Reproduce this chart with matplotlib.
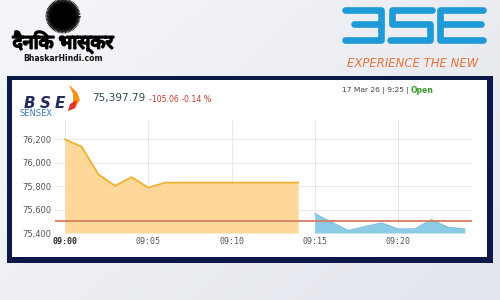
import matplotlib
matplotlib.use("Agg")
import matplotlib.pyplot as plt
import matplotlib.patheffects as pe
import numpy as np
from matplotlib.patches import Rectangle, Circle, Polygon
from matplotlib.lines import Line2D

# ---------------- data ----------------
minutes_pre = list(range(0, 15))
sensex_pre = [76200, 76137, 75902, 75803, 75877, 75788, 75830, 75830,
              75830, 75830, 75830, 75830, 75830, 75830, 75830]
minutes_live = list(range(15, 25))
sensex_live = [75564, 75492, 75420, 75453, 75485, 75434, 75434, 75513,
               75448, 75434]
prev_close = 75502.85
last_price = "75,397.79"
change_text = "-105.06 -0.14 %"
date_text = "17 Mar 26 | 9:25 |"
status_text = "Open"
time_ticks = [0, 5, 10, 15, 20]
time_labels = ["09:00", "09:05", "09:10", "09:15", "09:20"]
y_ticks = [75400, 75600, 75800, 76000, 76200]
y_labels = ["75,400", "75,600", "75,800", "76,000", "76,200"]

W, H = 500, 300
fig = plt.figure(figsize=(5, 3), dpi=100)
fig.patch.set_facecolor("#eceef3")

# background / decoration axes in pixel coordinates
bg = fig.add_axes([0, 0, 1, 1])
bg.set_xlim(0, W)
bg.set_ylim(H, 0)
bg.axis("off")
grad = np.linspace(0, 1, 256)[None, :] * 0.6 + np.linspace(0, 1, 256)[:, None] * 0.4
bg.imshow(grad, extent=[0, W, H, 0], cmap=matplotlib.colors.LinearSegmentedColormap.from_list(
    "g", ["#f5f6f9", "#e3e6ed"]), aspect="auto", zorder=0)

# Dainik Bhaskar logo
cx, cy = 63, 16
bg.add_patch(Circle((cx, cy), 12.5, color="black", zorder=2))
for i, a in enumerate(np.linspace(0, 2 * np.pi, 150, endpoint=False)):
    r2 = 17 if i % 2 == 0 else 15.5
    bg.add_line(Line2D([cx + 11 * np.cos(a), cx + r2 * np.cos(a)],
                       [cy + 11 * np.sin(a), cy + r2 * np.sin(a)],
                       color="black", lw=0.6, zorder=2))
bg.text(63, 42.5, "दैनिक भास्कर", fontsize=14, fontweight="bold", ha="center",
        va="center", color="black",
        family=["Noto Sans Devanagari", "Lohit Devanagari", "Noto Sans", "DejaVu Sans"], zorder=3,
        path_effects=[pe.withStroke(linewidth=1.3, foreground="black")])
bg.text(63, 58.5, "BhaskarHindi.com", fontsize=5.6, fontweight="bold", ha="center",
        va="center", color="#111111", zorder=3)

# BSE logo (right)
blue = "#1e9bd7"
kw = dict(color=blue, lw=4.8, solid_capstyle="round", solid_joinstyle="round", zorder=3)
bg.add_line(Line2D([345, 381, 381, 345], [10, 10, 40, 40], **kw))
bg.add_line(Line2D([354, 381], [24, 24], **kw))
bg.add_line(Line2D([432, 392, 392, 430, 430, 390], [10, 10, 24, 24, 40, 40], **kw))
bg.add_line(Line2D([483, 440, 440, 483], [10, 10, 40, 40], **kw))
bg.add_line(Line2D([440, 481], [24, 24], **kw))
bg.text(413, 63.5, "EXPERIENCE THE NEW", fontsize=8.4, style="italic", ha="center",
        va="center", color="#e8733a", zorder=3)

# navy frame and white panel
bg.add_patch(Rectangle((7, 76), 486, 187, fc="#0c1848", ec="none", zorder=1))
bg.add_patch(Rectangle((12, 80), 475, 177, fc="white", ec="none", zorder=1))

# BSE SENSEX small logo
for ch, x in zip("BSE", [29, 45, 60]):
    bg.text(x, 103, ch, fontsize=11, fontweight="bold", style="italic", ha="center",
            va="center", color="#222c5e", zorder=3)
bg.add_patch(Polygon([[69, 85], [77, 92], [80, 100], [75, 108], [68, 111], [73, 102],
                      [73, 94]], closed=True, fc="#f7941d", ec="none", zorder=3))
bg.add_patch(Polygon([[70, 104], [77, 100], [75, 108], [68, 111]], closed=True,
                     fc="#e2342a", ec="none", zorder=3))
bg.text(20, 114, "SENSEX", fontsize=6.0, ha="left", va="center", color="#3a78b5", zorder=3)

bg.text(92, 98.5, last_price, fontsize=7.6, ha="left", va="center", color="#2d4a53", zorder=3)
bg.text(149, 99.5, change_text, fontsize=5.6, ha="left", va="center", color="#c8372d", zorder=3)
bg.text(409, 90.5, date_text, fontsize=5.4, ha="right", va="center", color="#444444", zorder=3)
bg.text(411, 90.5, status_text, fontsize=5.6, fontweight="bold", ha="left", va="center",
        color="#3d9b35", zorder=3)

# ---------------- chart ----------------
px_l, px_r, px_t, px_b = 55, 472, 120, 233
ax = fig.add_axes([px_l / W, 1 - px_b / H, (px_r - px_l) / W, (px_b - px_t) / H])
ax.set_facecolor("none")
ymin = 75400
ax.set_xlim(-0.6, 24.44)
ax.set_ylim(ymin, 76365)
ax.grid(True, color="#e4e4e4", lw=0.6)
ax.set_axisbelow(True)

ax.fill_between(minutes_pre, sensex_pre, ymin, color="#fdd38a", alpha=0.88, lw=0, zorder=2)
ax.plot(minutes_pre, sensex_pre, color="#f0b030", lw=1.3, zorder=3)
ax.fill_between(minutes_live, sensex_live, ymin, color="#8ccbe6", lw=0, zorder=2)
ax.plot(minutes_live, sensex_live, color="#7dbfdf", lw=1.0, zorder=3)
ax.axhline(prev_close, color="#d97c62", lw=1.3, zorder=4)

for s in ax.spines.values():
    s.set_visible(False)
ax.set_xticks(time_ticks)
ax.set_xticklabels(time_labels, family="DejaVu Sans Mono", fontsize=6, color="#555555")
ax.get_xticklabels()[0].set_fontweight("bold")
ax.get_xticklabels()[0].set_color("#222222")
ax.set_yticks(y_ticks)
ax.set_yticklabels(y_labels, fontsize=6, color="#555555")
ax.tick_params(axis="both", length=0)
ax.tick_params(axis="y", pad=2.5)
ax.tick_params(axis="x", pad=3)

fig.savefig("out.png", dpi=100, facecolor=fig.get_facecolor())
